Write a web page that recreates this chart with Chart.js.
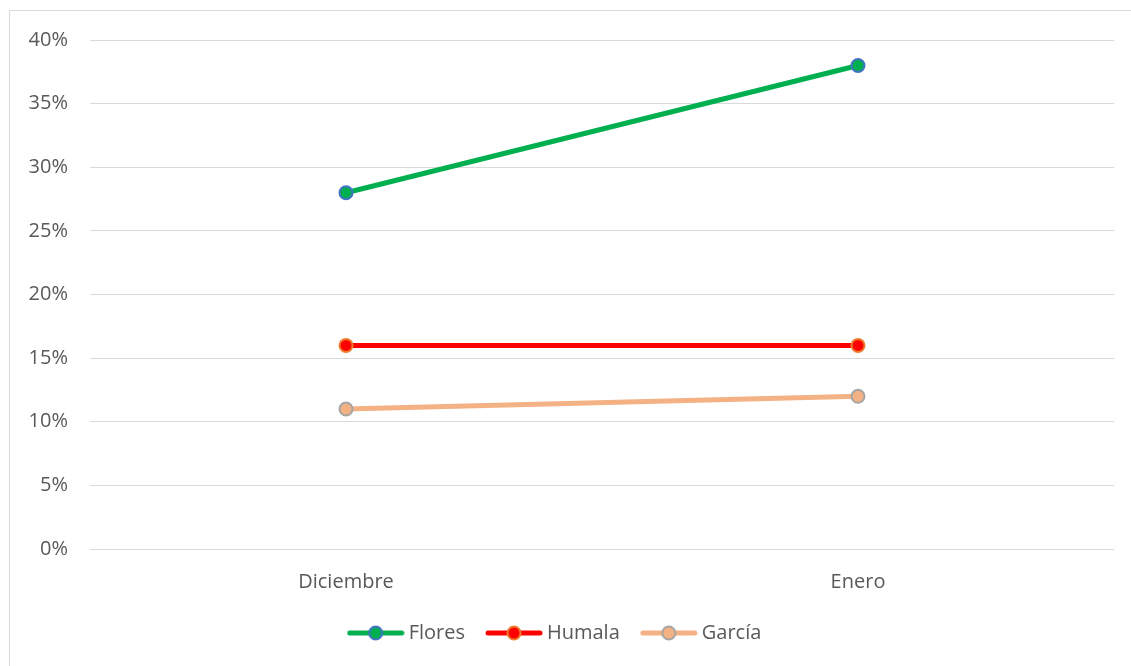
<!DOCTYPE html>
<html>
<head>
    <meta charset="utf-8">
    <title>Flores Humala García</title>
    <style>
        body {
            margin: 0;
            background-color: #ffffff;
            overflow: hidden;
        }
        #frame {
            position: absolute;
            left: 9px;
            top: 10px;
            width: 1200px;
            height: 700px;
            border: 1px solid #d9d9d9;
        }
        #chart-box {
            position: absolute;
            left: 0;
            top: 0;
            width: 1131px;
            height: 666px;
        }
    </style>
</head>
<body>
    <div id="frame"></div>
    <div id="chart-box">
        <canvas id="lineChart"></canvas>
    </div>

    <script src="https://cdn.jsdelivr.net/npm/chart.js"></script>
    <script>
        const months = ['Diciembre', 'Enero'];
        const flores = [28, 38];
        const humala = [16, 16];
        const garcia = [11, 12];
        const yTicks = [0, 5, 10, 15, 20, 25, 30, 35, 40];

        const textColor = '#595959';
        const fontFamily = '"Open Sans", Lato, sans-serif';

        // small picture of line + marker for the legend
        function legendIcon(lineColor, fill, stroke) {
            const c = document.createElement('canvas');
            c.width = 58;
            c.height = 18;
            const g = c.getContext('2d');
            g.strokeStyle = lineColor;
            g.lineWidth = 5;
            g.lineCap = 'round';
            g.beginPath();
            g.moveTo(3, 9);
            g.lineTo(55, 9);
            g.stroke();
            g.beginPath();
            g.arc(29, 9, 6.5, 0, Math.PI * 2);
            g.fillStyle = fill;
            g.fill();
            g.lineWidth = 2;
            g.strokeStyle = stroke;
            g.stroke();
            return c;
        }

        function series(label, data, lineColor, fill, stroke) {
            return {
                label: label,
                data: data,
                borderColor: lineColor,
                borderWidth: 5,
                pointRadius: 6.5,
                pointHoverRadius: 6.5,
                pointBackgroundColor: fill,
                pointBorderColor: stroke,
                pointBorderWidth: 2,
                pointStyle: 'circle',
                tension: 0,
                icon: legendIcon(lineColor, fill, stroke)
            };
        }

        const ctx = document.getElementById('lineChart').getContext('2d');
        new Chart(ctx, {
            type: 'line',
            data: {
                labels: months,
                datasets: [
                    series('Flores', flores, '#00b050', '#00b050', '#4472c4'),
                    series('Humala', humala, '#ff0000', '#ff0000', '#ed7d31'),
                    series('García', garcia, '#f4b183', '#f4b183', '#a5a5a5')
                ]
            },
            options: {
                responsive: true,
                maintainAspectRatio: false,
                animation: false,
                layout: {
                    padding: { left: 0, right: 17, top: 40, bottom: 13 }
                },
                plugins: {
                    legend: {
                        position: 'bottom',
                        labels: {
                            usePointStyle: true,
                            pointStyleWidth: 46,
                            padding: 26,
                            color: textColor,
                            font: { family: fontFamily, size: 20 },
                            generateLabels: chart => chart.data.datasets.map((ds, i) => ({
                                text: ds.label,
                                pointStyle: ds.icon,
                                fillStyle: ds.borderColor,
                                strokeStyle: ds.borderColor,
                                lineWidth: 0,
                                fontColor: textColor,
                                datasetIndex: i
                            }))
                        }
                    },
                    tooltip: { enabled: false }
                },
                scales: {
                    x: {
                        offset: true,
                        afterFit: scale => { scale.height = 48; },
                        grid: { display: false },
                        border: { display: false },
                        ticks: {
                            color: textColor,
                            padding: 13,
                            font: { family: fontFamily, size: 20 }
                        }
                    },
                    y: {
                        min: 0,
                        max: 40,
                        afterFit: scale => { scale.width = 90; },
                        afterBuildTicks: scale => {
                            scale.ticks = yTicks.map(v => ({ value: v }));
                        },
                        grid: { color: '#d9d9d9', lineWidth: 1, drawTicks: false },
                        border: { display: false },
                        ticks: {
                            color: textColor,
                            padding: 22,
                            font: { family: fontFamily, size: 20 },
                            callback: v => v + '%'
                        }
                    }
                }
            }
        });
    </script>
</body>
</html>
